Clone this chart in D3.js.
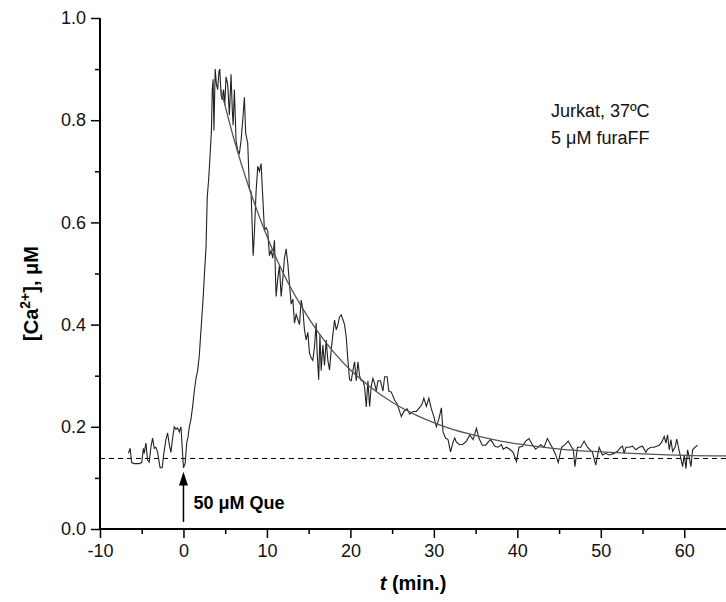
<!DOCTYPE html>
<html>
<head>
<meta charset="utf-8">
<script src="https://cdn.jsdelivr.net/npm/d3@7"></script>
<style>
  body { margin: 0; background: white; }
  text { font-family: "Liberation Sans", Arial, sans-serif; }
</style>
</head>
<body>
<div id="canvas"></div>
<script>
var w = 726;
var h = 602;
var margin = {left: 100, right: 0, top: 18, bottom: 73};

// measured [Ca2+] trace, [minutes, uM]
var trace = [
  [-6.6,0.148],[-6.4,0.158],[-6.2,0.13],[-5.9,0.128],[-5.6,0.128],[-5.3,0.128],[-5.0,0.13],[-4.8,0.158],
  [-4.7,0.148],[-4.5,0.168],[-4.3,0.135],[-4.1,0.131],[-3.9,0.16],[-3.7,0.178],[-3.5,0.158],[-3.3,0.16],
  [-3.1,0.15],[-2.9,0.13],[-2.8,0.12],[-2.55,0.12],[-2.35,0.148],[-2.1,0.175],[-1.9,0.188],[-1.7,0.165],
  [-1.5,0.15],[-1.3,0.178],[-1.1,0.2],[-0.9,0.195],[-0.7,0.198],[-0.5,0.19],[-0.3,0.2],[-0.15,0.16],
  [0.0,0.12],[0.2,0.128],[0.4,0.17],[0.55,0.18],[0.7,0.2],[0.9,0.215],[1.1,0.24],[1.3,0.27],
  [1.5,0.295],[1.7,0.31],[1.9,0.34],[2.1,0.39],[2.35,0.45],[2.55,0.51],[2.7,0.55],[2.85,0.65],
  [3.0,0.68],[3.15,0.72],[3.35,0.78],[3.45,0.86],[3.55,0.88],[3.65,0.78],[3.8,0.9],[3.95,0.87],
  [4.1,0.86],[4.25,0.895],[4.35,0.9],[4.5,0.85],[4.65,0.84],[4.8,0.86],[4.95,0.83],[5.1,0.885],
  [5.3,0.87],[5.5,0.81],[5.7,0.89],[5.85,0.82],[5.95,0.79],[6.1,0.86],[6.3,0.76],[6.5,0.74],
  [6.7,0.735],[6.9,0.76],[7.1,0.8],[7.3,0.845],[7.45,0.775],[7.7,0.755],[7.9,0.665],[8.1,0.66],
  [8.35,0.535],[8.5,0.58],[8.7,0.66],[8.9,0.71],[9.1,0.7],[9.3,0.715],[9.5,0.65],[9.7,0.585],
  [9.9,0.59],[10.1,0.583],[10.3,0.535],[10.5,0.545],[10.7,0.53],[10.9,0.565],[11.1,0.455],[11.3,0.49],
  [11.5,0.515],[11.7,0.455],[11.9,0.49],[12.1,0.53],[12.3,0.548],[12.5,0.52],[12.7,0.48],[12.9,0.44],
  [13.1,0.45],[13.3,0.403],[13.5,0.42],[13.7,0.41],[13.9,0.4],[14.1,0.448],[14.3,0.43],[14.5,0.389],
  [14.7,0.37],[14.9,0.385],[15.1,0.344],[15.3,0.335],[15.5,0.33],[15.7,0.357],[15.9,0.403],[16.0,0.35],
  [16.2,0.292],[16.35,0.38],[16.5,0.31],[16.7,0.36],[16.9,0.32],[17.1,0.37],[17.3,0.33],[17.5,0.311],
  [17.7,0.35],[17.9,0.38],[18.1,0.409],[18.3,0.39],[18.5,0.4],[18.7,0.415],[18.9,0.419],[19.1,0.41],
  [19.3,0.4],[19.5,0.376],[19.7,0.331],[19.9,0.292],[20.1,0.29],[20.3,0.31],[20.5,0.327],[20.7,0.29],
  [20.9,0.327],[21.1,0.3],[21.3,0.29],[21.5,0.29],[21.7,0.278],[21.9,0.239],[22.1,0.29],[22.3,0.24],
  [22.5,0.28],[22.7,0.295],[22.9,0.285],[23.1,0.27],[23.3,0.29],[23.6,0.29],[23.9,0.27],[24.1,0.298],
  [24.4,0.298],[24.6,0.27],[24.9,0.268],[25.3,0.252],[25.6,0.245],[26.1,0.22],[26.4,0.23],[26.8,0.235],
  [27.1,0.225],[27.5,0.23],[27.9,0.23],[28.4,0.24],[28.6,0.245],[28.8,0.256],[29.1,0.24],[29.4,0.256],
  [29.7,0.235],[30.0,0.22],[30.3,0.2],[30.6,0.215],[30.9,0.237],[31.1,0.19],[31.4,0.178],[31.7,0.175],
  [32.0,0.151],[32.3,0.17],[32.5,0.178],[32.7,0.17],[33.1,0.165],[33.5,0.166],[33.9,0.172],[34.3,0.184],
  [34.7,0.175],[35.1,0.197],[35.4,0.178],[35.8,0.164],[36.2,0.164],[36.6,0.172],[36.8,0.175],[37.0,0.17],
  [37.3,0.162],[37.7,0.16],[38.1,0.165],[38.3,0.156],[38.7,0.16],[39.1,0.156],[39.5,0.15],[39.9,0.132],
  [40.2,0.16],[40.6,0.162],[41.0,0.172],[41.4,0.177],[41.8,0.165],[42.2,0.156],[42.8,0.165],[43.2,0.16],
  [43.6,0.177],[44.0,0.165],[44.3,0.156],[44.6,0.145],[44.9,0.13],[45.3,0.16],[45.7,0.165],[46.1,0.172],
  [46.5,0.16],[46.7,0.156],[46.9,0.122],[47.2,0.16],[47.6,0.16],[48.0,0.172],[48.4,0.16],[49.0,0.15],
  [49.4,0.125],[49.8,0.16],[50.2,0.145],[50.6,0.148],[51.0,0.145],[51.6,0.148],[52.0,0.152],[52.4,0.16],
  [52.6,0.162],[52.8,0.148],[53.0,0.16],[53.4,0.16],[53.8,0.162],[54.2,0.155],[54.6,0.16],[55.0,0.162],
  [55.4,0.15],[55.6,0.156],[56.0,0.16],[56.4,0.16],[57.0,0.164],[57.3,0.17],[57.6,0.181],[57.8,0.168],
  [58.0,0.184],[58.2,0.155],[58.4,0.175],[58.6,0.152],[58.9,0.16],[59.1,0.176],[59.3,0.16],[59.5,0.145],
  [59.8,0.122],[60.0,0.145],[60.2,0.118],[60.4,0.155],[60.6,0.14],[60.8,0.122],[61.0,0.155],[61.3,0.16],
  [61.6,0.164]
];

// exponential decay fit
var fitT  = [4.5, 6, 8, 10, 12, 14, 16, 18, 20, 22, 25, 28, 31, 34, 38, 42, 46, 50, 55, 60, 65];
var fitCa = [0.86, 0.766, 0.661, 0.573, 0.499, 0.439, 0.388, 0.346, 0.311, 0.283, 0.248, 0.222,
             0.202, 0.187, 0.172, 0.162, 0.155, 0.151, 0.147, 0.144, 0.143];

var baseline = 0.138;
var xTicks = [-10, 0, 10, 20, 30, 40, 50, 60];
var yTicks = [0.0, 0.2, 0.4, 0.6, 0.8, 1.0];
var stimTime = 0;

var canvas = d3.select("#canvas")
  .append("svg")
  .attr("width", w)
  .attr("height", h)
  .style("background-color", "white");

var x = d3.scaleLinear().domain([-10, 65]).range([margin.left, w - margin.right]);
var y = d3.scaleLinear().domain([0, 1]).range([h - margin.bottom, margin.top]);

// baseline (dashed)
canvas.append("line")
  .attr("x1", x(-10)).attr("x2", x(65))
  .attr("y1", y(baseline)).attr("y2", y(baseline))
  .attr("stroke", "black")
  .attr("stroke-width", 1)
  .attr("stroke-dasharray", "5,4");

// trace
var line = d3.line().x(d => x(d[0])).y(d => y(d[1]));
canvas.append("path")
  .datum(trace)
  .attr("d", line)
  .attr("fill", "none")
  .attr("stroke", "#222")
  .attr("stroke-width", 1.1);

// fit
var fit = fitT.map((t, i) => [t, fitCa[i]]);
canvas.append("path")
  .datum(fit)
  .attr("d", d3.line().x(d => x(d[0])).y(d => y(d[1])).curve(d3.curveMonotoneX))
  .attr("fill", "none")
  .attr("stroke", "#555")
  .attr("stroke-width", 1.3);

// axes (plain hyphen for negatives, like the original)
var xAxis = d3.axisBottom(x).tickValues(xTicks).tickSize(9).tickPadding(6).tickFormat(d => String(d));
var xMinor = d3.axisBottom(x).tickValues(d3.range(-5, 65, 10)).tickSize(5).tickFormat("");
var yAxis = d3.axisLeft(y).tickValues(yTicks).tickSize(9).tickPadding(5).tickFormat(d3.format(".1f"));
var yMinor = d3.axisLeft(y).tickValues([0.1, 0.3, 0.5, 0.7, 0.9]).tickSize(5).tickFormat("");

var gx = canvas.append("g").attr("transform", `translate(0,${y(0)})`).call(xAxis);
var gxm = canvas.append("g").attr("transform", `translate(0,${y(0)})`).call(xMinor);
var gy = canvas.append("g").attr("transform", `translate(${x(-10)},0)`).call(yAxis);
var gym = canvas.append("g").attr("transform", `translate(${x(-10)},0)`).call(yMinor);

[gx, gxm, gy, gym].forEach(function(g) {
  g.select(".domain").remove();
  g.selectAll(".tick line").attr("stroke-width", 1.5);
  g.selectAll("text").style("font-size", "18px").attr("fill", "#111");
});

// axis lines
canvas.append("line")
  .attr("x1", x(-10)).attr("x2", x(65))
  .attr("y1", y(0)).attr("y2", y(0))
  .attr("stroke", "black").attr("stroke-width", 2);
canvas.append("line")
  .attr("x1", x(-10)).attr("x2", x(-10))
  .attr("y1", y(0)).attr("y2", y(1))
  .attr("stroke", "black").attr("stroke-width", 2);

// axis titles
var xt = canvas.append("text")
  .attr("x", (x(-10) + x(65)) / 2)
  .attr("y", h - 12)
  .attr("text-anchor", "middle")
  .style("font-size", "20px")
  .style("font-weight", "bold");
xt.append("tspan").style("font-style", "italic").text("t");
xt.append("tspan").text(" (min.)");

var yt = canvas.append("text")
  .attr("transform", `translate(38,${(y(0) + y(1)) / 2 + 20}) rotate(-90)`)
  .attr("text-anchor", "middle")
  .style("font-size", "20px")
  .style("font-weight", "bold");
yt.append("tspan").text("[Ca");
yt.append("tspan").attr("dy", -8).style("font-size", "14px").text("2+");
yt.append("tspan").attr("dy", 8).text("], \u03bcM");

// stimulus arrow + label
canvas.append("line")
  .attr("x1", x(stimTime)).attr("x2", x(stimTime))
  .attr("y1", y(0.014)).attr("y2", y(0.09))
  .attr("stroke", "black").attr("stroke-width", 1.5);
canvas.append("path")
  .attr("d", `M${x(stimTime)},${y(0.112)} L${x(stimTime) - 4.5},${y(0.085)} L${x(stimTime) + 4.5},${y(0.085)} Z`)
  .attr("fill", "black");
canvas.append("text")
  .attr("x", x(stimTime) + 10)
  .attr("y", y(0.04))
  .style("font-size", "18px")
  .style("font-weight", "bold")
  .text("50 \u03bcM Que");

canvas.append("text")
  .attr("x", 551).attr("y", 117)
  .style("font-size", "18px")
  .attr("fill", "#111")
  .text("Jurkat, 37\u00baC");
canvas.append("text")
  .attr("x", 551).attr("y", 144)
  .style("font-size", "18px")
  .attr("fill", "#111")
  .text("5 \u03bcM furaFF");
</script>
</body>
</html>
